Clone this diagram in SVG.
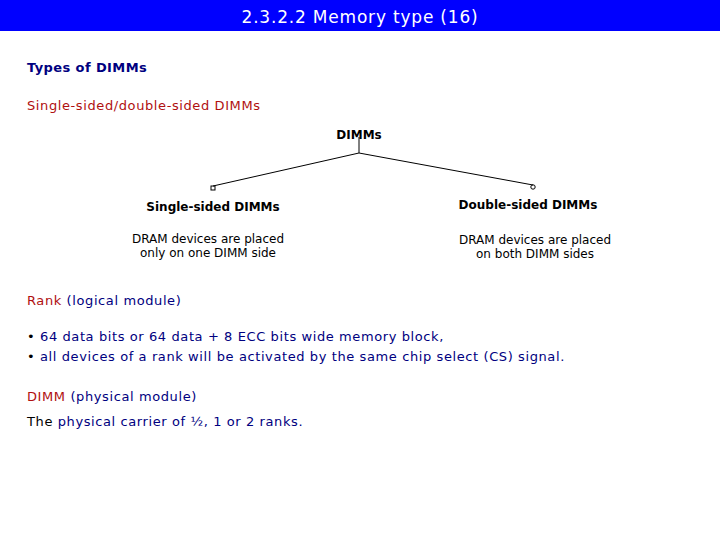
<svg xmlns="http://www.w3.org/2000/svg" width="720" height="540" viewBox="0 0 720 540">
<style>
text{font-family:"DejaVu Sans","Liberation Sans",sans-serif;}
.b{font-size:13px;fill:#000080;letter-spacing:0.6px;}
.r{fill:#b01010;}
.k{font-size:12px;fill:#000;}
.kb{font-size:12px;fill:#000;font-weight:bold;}
.ln{stroke:#000;stroke-width:1;fill:none;}
</style>
<rect width="720" height="540" fill="#fff"/>
<rect x="0" y="0" width="720" height="31" fill="#0000ff"/>
<text x="360" y="23" text-anchor="middle" font-size="17" fill="#fff" letter-spacing="0.8">2.3.2.2 Memory type (16)</text>
<text x="27" y="72" font-size="13" font-weight="bold" fill="#000080" letter-spacing="0.4">Types of DIMMs</text>
<text x="27" y="110" class="b r">Single-sided/double-sided DIMMs</text>
<g id="connectors">
<path class="ln" d="M359,137 V153 L213,186 M359,153 L533,185"/>
<rect x="211" y="186" width="4" height="4" class="ln"/>
<circle cx="533" cy="187" r="2.2" class="ln"/>
</g>
<g id="root"><text x="359" y="139" text-anchor="middle" class="kb">DIMMs</text></g>
<g id="single">
<text x="213" y="211" text-anchor="middle" class="kb">Single-sided DIMMs</text>
<text x="208" y="243" text-anchor="middle" class="k">DRAM devices are placed</text>
<text x="208" y="257" text-anchor="middle" class="k">only on one DIMM side</text>
</g>
<g id="double">
<text x="528" y="209" text-anchor="middle" class="kb">Double-sided DIMMs</text>
<text x="535" y="244" text-anchor="middle" class="k">DRAM devices are placed</text>
<text x="535" y="258" text-anchor="middle" class="k">on both DIMM sides</text>
</g>
<text x="27" y="305" class="b"><tspan class="r">Rank</tspan> (logical module)</text>
<text x="27" y="341" class="b"><tspan fill="#000">•</tspan> 64 data bits or 64 data + 8 ECC bits wide memory block,</text>
<text x="27" y="361" class="b"><tspan fill="#000">•</tspan> all devices of a rank will be activated by the same chip select (CS) signal.</text>
<text x="27" y="401" class="b"><tspan class="r">DIMM</tspan> (physical module)</text>
<text x="27" y="426" class="b"><tspan fill="#000">The</tspan> physical carrier of ½, 1 or 2 ranks.</text>
</svg>
